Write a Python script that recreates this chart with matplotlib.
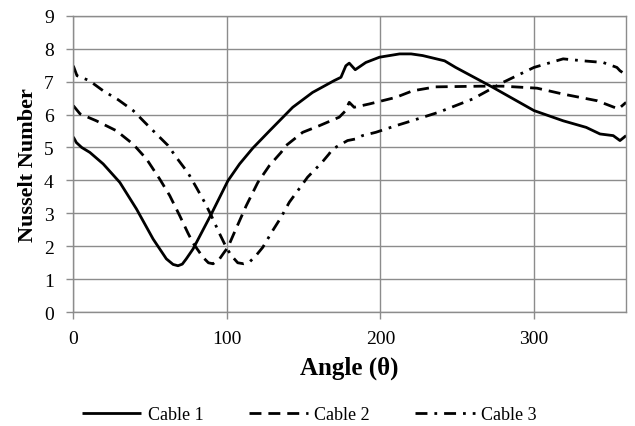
import matplotlib
matplotlib.use("Agg")
import matplotlib.pyplot as plt

plt.rcParams["font.family"] = ["Liberation Serif", "DejaVu Serif"]

# angle (deg) and Nusselt number for each cable
angle_1 = [0, 2, 5.5, 10.8, 19.5, 30.3, 41.2, 52, 60.6, 65, 68.2, 71, 73.6,
           78, 89.9, 100.7, 108.3, 116.9, 127.7, 142.9, 155.8, 169.9, 174.3,
           177.5, 179.7, 183.6, 190.5, 199.4, 212.5, 220, 227.5, 241.8, 249,
           273, 300, 319, 334, 343, 351.6, 356, 360]
nu_1 = [5.32, 5.15, 5.00, 4.85, 4.50, 3.94, 3.13, 2.22, 1.62, 1.45, 1.41,
        1.46, 1.62, 1.92, 2.98, 3.99, 4.50, 4.98, 5.50, 6.22, 6.67, 7.03,
        7.13, 7.48, 7.56, 7.36, 7.58, 7.74, 7.84, 7.84, 7.79, 7.63, 7.43,
        6.83, 6.12, 5.81, 5.61, 5.41, 5.36, 5.21, 5.36]

angle_2 = [0, 4.4, 15, 28, 39, 47.7, 56.3, 62.8, 69.3, 74.7, 78, 84.4, 88,
           91, 95.3, 98, 100.7, 105, 112.6, 120.2, 127.7, 135.3, 138.6, 149.4,
           160.2, 173.2, 177, 179.7, 182.9, 192.7, 210, 221, 236, 265, 280,
           302, 319, 341, 355, 360]
nu_2 = [6.27, 6.02, 5.81, 5.51, 5.10, 4.65, 4.04, 3.54, 2.93, 2.40, 2.10,
        1.67, 1.50, 1.47, 1.62, 1.80, 1.97, 2.43, 3.23, 3.94, 4.45, 4.85,
        5.06, 5.46, 5.66, 5.92, 6.10, 6.37, 6.22, 6.32, 6.52, 6.72, 6.84,
        6.86, 6.86, 6.80, 6.62, 6.42, 6.17, 6.37]

angle_3 = [0, 2.4, 10.4, 19.5, 29.2, 39, 46.6, 55.2, 61.7, 67.1, 74.7, 80.1,
           85.5, 89.9, 95.3, 99.6, 102.9, 107.1, 111, 114.7, 119, 123.4,
           129.9, 135.3, 140.7, 147, 152.6, 162, 166.5, 168.8, 178.6, 184,
           188.3, 197, 210, 217, 238, 260, 280, 300, 319, 332, 345, 354, 356,
           360]
nu_3 = [7.48, 7.18, 7.03, 6.72, 6.45, 6.12, 5.76, 5.36, 5.06, 4.70, 4.23,
        3.79, 3.34, 2.93, 2.38, 1.97, 1.72, 1.50, 1.47, 1.52, 1.72, 1.97,
        2.48, 2.88, 3.34, 3.74, 4.10, 4.55, 4.80, 4.95, 5.21, 5.26, 5.36,
        5.46, 5.66, 5.76, 6.07, 6.47, 6.98, 7.43, 7.69, 7.63, 7.58, 7.43,
        7.33, 7.20]

fig = plt.figure(figsize=(6.35, 4.27), dpi=100)
ax = fig.add_axes([0.1154, 0.2665, 0.8706, 0.6944])

style = dict(color="black", lw=2, solid_joinstyle="round",
             dash_joinstyle="round", solid_capstyle="butt")
ax.plot(angle_1, nu_1, ls="-", label="Cable 1", **style)
ax.plot(angle_2, nu_2, ls=(0, (4.3, 2.5)), label="Cable 2", **style)
ax.plot(angle_3, nu_3, ls=(0, (4.3, 2.5, 1, 2.5)), label="Cable 3", **style)

ax.set_xlim(0, 360)
ax.set_ylim(0, 9)
ax.set_xticks([0, 100, 200, 300])
ax.set_yticks(range(0, 10))
ax.grid(True, color="#8c8c8c", lw=1)
ax.set_axisbelow(True)
for s in ax.spines.values():
    s.set_color("#8c8c8c")
    s.set_linewidth(1)
ax.tick_params(colors="#8c8c8c", labelcolor="black", labelsize=14,
               length=5, width=1)
ax.tick_params(axis="y", pad=9)
ax.tick_params(axis="x", pad=8)

ax.set_xlabel("Angle (θ)", fontsize=18, fontweight="bold", labelpad=6)
ax.set_ylabel("Nusselt Number", fontsize=16, fontweight="bold", labelpad=4)

fig.legend(loc="center", bbox_to_anchor=(0.487, 0.027), ncol=3,
           frameon=False, fontsize=13, handlelength=3.3, handletextpad=0.35,
           columnspacing=2.5)

fig.savefig("out.png", dpi=100)
